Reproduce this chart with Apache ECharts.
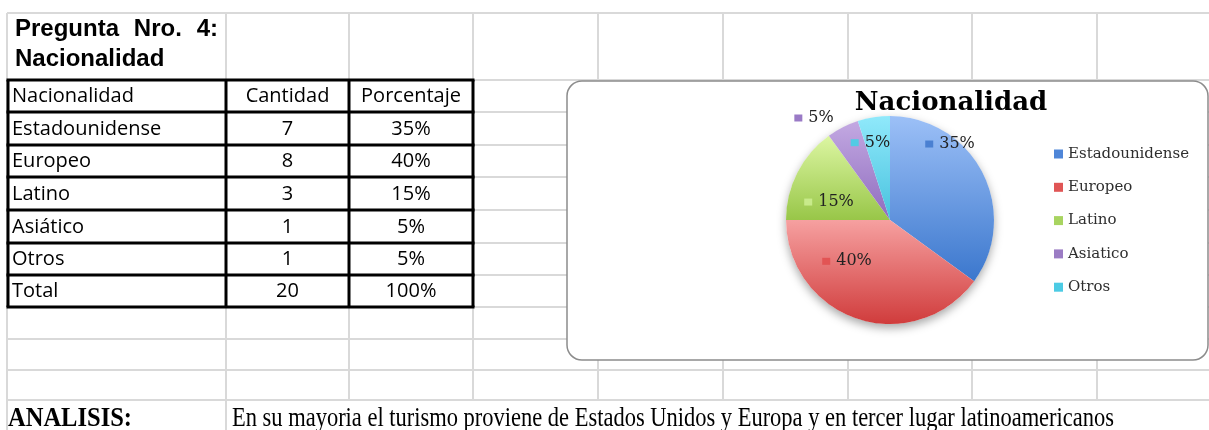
<!DOCTYPE html>
<html>
<head>
<meta charset="utf-8">
<script src="https://cdn.jsdelivr.net/npm/echarts@6/dist/echarts.min.js"></script>
<style>
html,body{margin:0;padding:0;background:#ffffff;}
#c{width:1209px;height:430px;}
</style>
</head>
<body>
<div id="c"></div>
<script>
// ---------- DATA ----------
const titleLines = ['Pregunta Nro. 4:', 'Nacionalidad'];
const tableHeader = ['Nacionalidad', 'Cantidad', 'Porcentaje'];
const tableNames = ['Estadounidense', 'Europeo', 'Latino', 'Asiático', 'Otros'];
const cantidad = [7, 8, 3, 1, 1];
const porcentaje = ['35%', '40%', '15%', '5%', '5%'];
const totalRow = ['Total', '20', '100%'];
const chartTitle = 'Nacionalidad';
const pieNames = ['Estadounidense', 'Europeo', 'Latino', 'Asiatico', 'Otros'];
const pieValues = [7, 8, 3, 1, 1];
const analisisLabel = 'ANALISIS:';
const analisisText = 'En su mayoria el turismo proviene de Estados Unidos y Europa y en tercer lugar latinoamericanos';

// ---------- STYLE / LAYOUT ----------
const gridXs = [7, 226, 349, 473, 598, 723, 848, 972, 1097];
const gridYs = [13, 80, 112, 145, 177, 210, 243, 275, 307, 339, 370, 400];
const colEdges = [8, 226, 349, 473];
const rowEdges = [80, 112, 145, 177, 210, 243, 275, 307];
const sliceTop = ['#9cc0f7', '#f6a0a0', '#dcf6a2', '#c3a9e2', '#90e9fb'];
const sliceBot = ['#3b77cd', '#d03c3c', '#98c648', '#8f6cbe', '#48c2de'];
const markColors = ['#4a80d2', '#e25454', '#c8ea8a', '#9a7ac6', '#52cbe4'];
const legendColors = ['#4f86d8', '#e05555', '#a8d460', '#9b7cc4', '#4ccbe4'];
const labelDX = [11, -26, -12, -51, -11];
const labelDY = [-51, -11, 7, -53, -23];

const chart = echarts.init(document.getElementById('c'), null, {renderer: 'canvas'});

const mctx = document.createElement('canvas').getContext('2d');
function measure(text, font) { mctx.font = font; return mctx.measureText(text).width; }

const G = [];
const grey = '#d9d9d9';
// grey spreadsheet grid
gridYs.forEach(y => G.push({type: 'line', z: 0, silent: true,
  shape: {x1: 7, y1: y, x2: 1209, y2: y}, style: {stroke: grey, lineWidth: 2}}));
gridXs.forEach(x => G.push({type: 'line', z: 0, silent: true,
  shape: {x1: x, y1: 13, x2: x, y2: (x === 7 || x === 226) ? 430 : 400}, style: {stroke: grey, lineWidth: 2}}));
// table thick borders
rowEdges.forEach(y => G.push({type: 'line', z: 2, silent: true,
  shape: {x1: colEdges[0] - 1.5, y1: y, x2: colEdges[3] + 1.5, y2: y}, style: {stroke: '#000', lineWidth: 3}}));
colEdges.forEach(x => G.push({type: 'line', z: 2, silent: true,
  shape: {x1: x, y1: rowEdges[0], x2: x, y2: rowEdges[rowEdges.length - 1]}, style: {stroke: '#000', lineWidth: 3}}));

// title cell (justified first line)
const titleFont = 'bold 24px "Liberation Sans", Arial, sans-serif';
(function () {
  const words = titleLines[0].split(' ');
  const widths = words.map(w => measure(w, titleFont));
  const total = widths.reduce((a, b) => a + b, 0);
  const gap = (218 - 15 - total) / (words.length - 1);
  let x = 15;
  words.forEach((w, i) => {
    G.push({type: 'text', z: 3, silent: true, x: x, y: 29.5,
      style: {text: w, font: titleFont, fill: '#000', textAlign: 'left', textVerticalAlign: 'middle'}});
    x += widths[i] + gap;
  });
  G.push({type: 'text', z: 3, silent: true, x: 15, y: 59.5,
    style: {text: titleLines[1], font: titleFont, fill: '#000', textAlign: 'left', textVerticalAlign: 'middle'}});
})();

// table text
const cellFont = '20px "Open Sans", sans-serif';
const rows = [tableHeader].concat(tableNames.map((n, i) => [n, String(cantidad[i]), porcentaje[i]])).concat([totalRow]);
rows.forEach((r, ri) => {
  const yc = (rowEdges[ri] + rowEdges[ri + 1]) / 2 + 0.5;
  r.forEach((t, ci) => {
    const left = ci === 0;
    G.push({type: 'text', z: 3, silent: true,
      x: left ? colEdges[0] + 4 : (colEdges[ci] + colEdges[ci + 1]) / 2, y: yc,
      style: {text: t, font: cellFont, fill: '#000', textAlign: left ? 'left' : 'center', textVerticalAlign: 'middle'}});
  });
});

// chart box
G.push({type: 'rect', z: 1, silent: true, shape: {x: 567, y: 81, width: 641, height: 279, r: 15},
  style: {fill: '#ffffff', stroke: '#8c8c8c', lineWidth: 1.5}});
// chart title
G.push({type: 'text', z: 5, silent: true, x: 951, y: 103,
  style: {text: chartTitle, font: 'bold 26px "DejaVu Serif", serif', fill: '#000', textAlign: 'center', textVerticalAlign: 'middle'}});

// bottom analysis row
(function () {
  const f1 = 'bold 27px "Liberation Serif", "Times New Roman", serif';
  const f2 = '27px "Liberation Serif", "Times New Roman", serif';
  const s1 = (132 - 8) / measure(analisisLabel, f1);
  const s2 = (1114 - 232) / measure(analisisText, f2);
  G.push({type: 'text', z: 3, silent: true, x: 8, y: 419, scaleX: s1,
    style: {text: analisisLabel, font: f1, fill: '#000', textAlign: 'left', textVerticalAlign: 'middle'}});
  G.push({type: 'text', z: 3, silent: true, x: 232, y: 419, scaleX: s2,
    style: {text: analisisText, font: f2, fill: '#000', textAlign: 'left', textVerticalAlign: 'middle'}});
})();

const pieData = pieNames.map((n, i) => ({
  name: n, value: pieValues[i],
  itemStyle: {color: {type: 'linear', x: 0, y: 0, x2: 0, y2: 1,
    colorStops: [{offset: 0, color: sliceTop[i]}, {offset: 1, color: sliceBot[i]}]}},
  label: {rich: {m: {width: 8, height: 7, backgroundColor: markColors[i]}}}
}));

chart.setOption({
  animation: false,
  backgroundColor: '#ffffff',
  graphic: {elements: G},
  legend: {
    orient: 'vertical', left: 1054, top: 146.5, padding: 0, itemWidth: 9, itemHeight: 9, itemGap: 18.3,
    icon: 'rect', selectedMode: false,
    textStyle: {fontFamily: '"DejaVu Serif", serif', fontSize: 15, lineHeight: 15, color: '#2e2e2e'},
    data: pieNames.map((n, i) => ({name: n, itemStyle: {color: legendColors[i]}}))
  },
  series: [
    {
      type: 'pie', silent: true, z: 1, center: [890, 220], radius: 104,
      label: {show: false}, labelLine: {show: false}, legendHoverLink: false,
      data: [{value: 1, name: '_bg', itemStyle: {color: '#ffffff', shadowBlur: 10, shadowOffsetY: 4, shadowColor: 'rgba(0,0,0,0.35)'}}]
    },
    {
      type: 'pie', z: 3, center: [890, 220], radius: 104, startAngle: 90, clockwise: true,
      percentPrecision: 0, avoidLabelOverlap: false,
      itemStyle: {borderWidth: 0},
      emphasis: {disabled: true},
      label: {
        show: true, position: 'inside', fontFamily: '"DejaVu Serif", serif', fontSize: 16, color: '#222',
        formatter: p => '{m|}{t|' + Math.round(p.percent) + '%}',
        rich: {t: {fontFamily: '"DejaVu Serif", serif', fontSize: 16, color: '#222', padding: [0, 0, 0, 6]}}
      },
      labelLine: {show: false},
      labelLayout: p => ({dx: labelDX[p.dataIndex], dy: labelDY[p.dataIndex]}),
      data: pieData
    }
  ]
});
</script>
</body>
</html>
